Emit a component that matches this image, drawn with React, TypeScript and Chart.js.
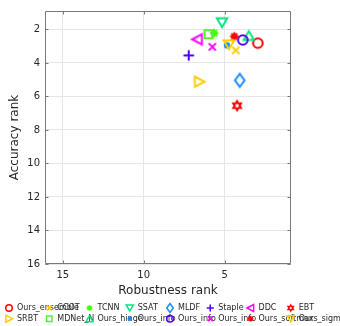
import { useEffect, useRef } from 'react';
import { Chart, registerables } from 'chart.js';

Chart.register(...registerables);

// ---- data ----
const methods = [
  'Ours_ensemble', 'CCOT', 'TCNN', 'SSAT', 'MLDF', 'Staple', 'DDC', 'EBT',
  'SRBT', 'MDNet_N', 'Ours_hinge', 'Ours_info', 'Ours_info', 'Ours_info', 'Ours_softmax', 'Ours_sigmoid',
];
const robustnessRank = [2.95, 4.31, 5.65, 5.16, 4.07, 7.22, 6.69, 4.23, 6.56, 6.0, 3.51, 4.86, 3.88, 5.76, 4.4, 4.74];
const accuracyRank = [2.82, 3.25, 2.22, 1.6, 5.04, 3.55, 2.59, 6.55, 5.12, 2.29, 2.36, 2.95, 2.63, 3.04, 2.42, 2.92];
const markerKinds = ['o', 'x', '*', 'v', 'd', '+', '<', 'h', '>', 's', '^', '.', 'o', 'x', '*', 'v'];
const markerColors = [
  '#ff0000', '#ffcc00', '#44ff00', '#00e680', '#1a8cff', '#5000ff', '#ff00ff', '#ff0000',
  '#ffcc00', '#55ee33', '#00e680', '#1a8cff', '#5000ff', '#ff00ff', '#ff0000', '#ffcc00',
];
const xTicks = [15, 10, 5];
const yTicks = [2, 4, 6, 8, 10, 12, 14, 16];

const FONT = 'DejaVu Sans';
const TEXT = '#262626';
const BOX = '#7a7a7a';

function drawMarker(ctx: CanvasRenderingContext2D, kind: string, cx: number, cy: number, color: string, k: number, lw: number) {
  ctx.save();
  ctx.strokeStyle = color;
  ctx.fillStyle = color;
  ctx.lineWidth = lw;
  ctx.lineJoin = 'miter';
  ctx.beginPath();
  const poly = (pts: number[][]) => {
    ctx.moveTo(cx + pts[0][0] * k, cy + pts[0][1] * k);
    for (let i = 1; i < pts.length; i++) ctx.lineTo(cx + pts[i][0] * k, cy + pts[i][1] * k);
    ctx.closePath();
    ctx.stroke();
  };
  const lines = (segs: number[][]) => {
    for (const s of segs) {
      ctx.moveTo(cx + s[0] * k, cy + s[1] * k);
      ctx.lineTo(cx + s[2] * k, cy + s[3] * k);
    }
    ctx.stroke();
  };
  switch (kind) {
    case 'o':
      ctx.arc(cx, cy, 4.8 * k, 0, Math.PI * 2);
      ctx.stroke();
      break;
    case '.':
      ctx.arc(cx, cy, 3.2 * k, 0, Math.PI * 2);
      ctx.fill();
      break;
    case 'x':
      lines([[-3.6, -3.6, 3.6, 3.6], [-3.6, 3.6, 3.6, -3.6]]);
      break;
    case '+':
      lines([[-5.3, 0, 5.3, 0], [0, -5.3, 0, 5.3]]);
      break;
    case '*':
      lines([[-4.2, 0, 4.2, 0], [0, -4.2, 0, 4.2], [-3, -3, 3, 3], [-3, 3, 3, -3]]);
      break;
    case 'v':
      poly([[-5.2, -4.4], [5.2, -4.4], [0, 4.4]]);
      break;
    case '^':
      poly([[-5.2, 4.4], [5.2, 4.4], [0, -4.4]]);
      break;
    case '<':
      poly([[4.6, -5.2], [4.6, 5.2], [-5.2, 0]]);
      break;
    case '>':
      poly([[-4.6, -5.2], [-4.6, 5.2], [5.2, 0]]);
      break;
    case 'd':
      poly([[0, -6.6], [4.8, 0], [0, 6.6], [-4.8, 0]]);
      break;
    case 's':
      poly([[-4, -4], [4, -4], [4, 4], [-4, 4]]);
      break;
    case 'h': {
      const pts: number[][] = [];
      for (let i = 0; i < 12; i++) {
        const r = i % 2 === 0 ? 4.4 : 2.5;
        const a = -Math.PI / 2 + (i * Math.PI) / 6;
        pts.push([r * Math.cos(a), r * Math.sin(a)]);
      }
      poly(pts);
      break;
    }
  }
  ctx.restore();
}

function markerCanvas(kind: string, color: string) {
  const c = document.createElement('canvas');
  c.width = 20;
  c.height = 20;
  const ctx = c.getContext('2d')!;
  drawMarker(ctx, kind, 10, 10, color, 1, 2);
  return c;
}

const framePlugin = {
  id: 'frameAndLegend',
  beforeDatasetsDraw(chart: any) {
    const { ctx, chartArea: a, scales } = chart;
    const l = Math.round(a.left) + 0.5;
    const r = Math.round(a.right) - 0.5;
    const t = Math.round(a.top) + 0.5;
    const b = Math.round(a.bottom) - 0.5;
    ctx.save();
    ctx.strokeStyle = BOX;
    ctx.lineWidth = 1;
    ctx.beginPath();
    ctx.rect(l, t, r - l, b - t);
    const tl = 3;
    for (const v of xTicks) {
      const x = Math.round(scales.x.getPixelForValue(v)) + 0.5;
      ctx.moveTo(x, b); ctx.lineTo(x, b - tl);
      ctx.moveTo(x, t); ctx.lineTo(x, t + tl);
    }
    for (const v of yTicks) {
      const y = Math.round(scales.y.getPixelForValue(v)) + 0.5;
      ctx.moveTo(l, y); ctx.lineTo(l + tl, y);
      ctx.moveTo(r, y); ctx.lineTo(r - tl, y);
    }
    ctx.stroke();
    ctx.restore();
  },
  afterDraw(chart: any) {
    const { ctx } = chart;
    const cols = 8;
    ctx.save();
    ctx.font = `8px "${FONT}"`;
    ctx.textAlign = 'left';
    ctx.textBaseline = 'middle';
    methods.forEach((name, i) => {
      const col = i % cols;
      const row = Math.floor(i / cols);
      const x = 9 + col * 40.25;
      const y = 308 + row * 10.7;
      drawMarker(ctx, markerKinds[i], x, y, markerColors[i], 0.68, 1.5);
      ctx.fillStyle = TEXT;
      ctx.fillText(name, x + 8, y);
    });
    ctx.restore();
  },
};

export default function App() {
  const ref = useRef<HTMLCanvasElement | null>(null);

  useEffect(() => {
    document.body.style.margin = '0';
    const canvas = ref.current!;
    const datasets = methods.map((name, i) => ({
      label: name,
      data: [{ x: robustnessRank[i], y: accuracyRank[i] }],
      pointStyle: markerCanvas(markerKinds[i], markerColors[i]),
      pointRadius: 6,
      backgroundColor: markerColors[i],
      borderColor: markerColors[i],
      order: methods.length - i,
    }));
    const chart = new Chart(canvas, {
      type: 'scatter',
      data: { datasets },
      options: {
        animation: false,
        responsive: false,
        maintainAspectRatio: false,
        layout: { padding: { left: 0, right: 49, top: 6, bottom: 28 } },
        plugins: { legend: { display: false }, tooltip: { enabled: false } },
        scales: {
          x: {
            type: 'linear',
            reverse: true,
            min: 0.9,
            max: 16.1,
            afterBuildTicks: (s: any) => { s.ticks = xTicks.map((v) => ({ value: v })); },
            afterFit: (s: any) => { s.height = 34; },
            grid: { color: '#e6e6e6', drawTicks: false, lineWidth: 1 },
            border: { display: false },
            ticks: { color: TEXT, font: { family: FONT, size: 10 }, padding: 5, maxRotation: 0 },
            title: { display: true, text: 'Robustness rank', color: TEXT, font: { family: FONT, size: 12 }, padding: { top: 0, bottom: 0 } },
          },
          y: {
            type: 'linear',
            reverse: true,
            min: 0.9,
            max: 16,
            afterBuildTicks: (s: any) => { s.ticks = yTicks.map((v) => ({ value: v })); },
            afterFit: (s: any) => { s.width = 45; },
            grid: { color: '#e6e6e6', drawTicks: false, lineWidth: 1 },
            border: { display: false },
            ticks: { color: TEXT, font: { family: FONT, size: 10 }, padding: 5 },
            title: { display: true, text: 'Accuracy rank', color: TEXT, font: { family: FONT, size: 12 }, padding: { top: 8, bottom: 0 } },
          },
        },
      },
      plugins: [framePlugin],
    });
    return () => chart.destroy();
  }, []);

  return (
    <div style={{ width: 340, height: 326, overflow: 'hidden' }}>
      <canvas ref={ref} width={340} height={326} style={{ display: 'block', width: 340, height: 326 }} />
    </div>
  );
}
